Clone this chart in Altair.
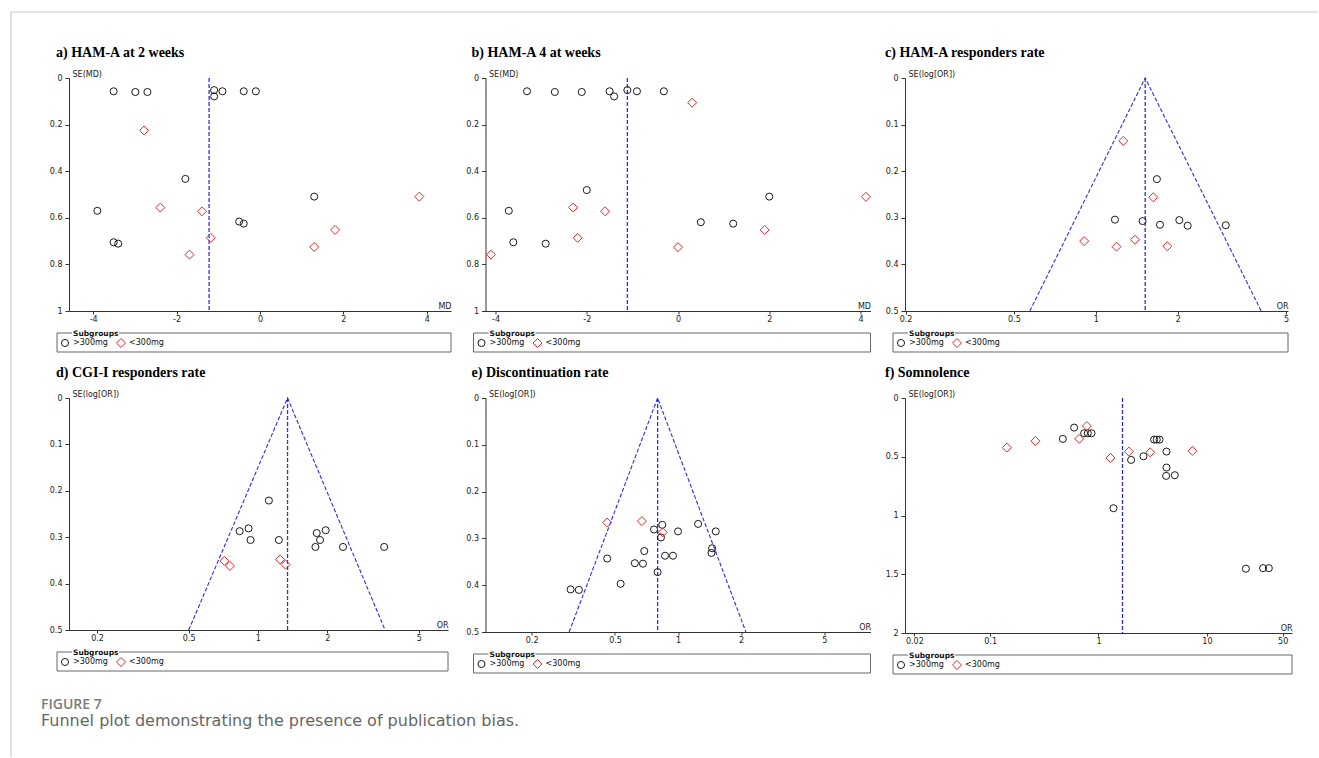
import altair as alt
import pandas as pd

# ---------------- data ----------------
# a) HAM-A at 2 weeks  (MD, SE(MD))
a_hi_md = [-3.51, -2.99, -2.70, -1.10, -1.10, -0.90, -0.39, -0.10, -1.79, 1.30, -3.90, -3.51, -3.40, -0.50, -0.39]
a_hi_se = [0.057, 0.060, 0.060, 0.052, 0.079, 0.057, 0.057, 0.057, 0.433, 0.509, 0.570, 0.705, 0.711, 0.616, 0.625]
a_lo_md = [-2.78, -2.39, -1.39, -1.18, -1.69, 1.30, 1.80, 3.82]
a_lo_se = [0.225, 0.556, 0.572, 0.686, 0.758, 0.725, 0.652, 0.509]
a_pooled = -1.22

# b) HAM-A 4 at weeks
b_hi_md = [-3.31, -2.70, -2.11, -1.50, -1.40, -1.11, -0.90, -0.31, -2.00, 2.00, -3.71, -3.61, -2.90, 0.50, 1.21]
b_hi_se = [0.057, 0.060, 0.060, 0.057, 0.079, 0.052, 0.057, 0.057, 0.481, 0.509, 0.570, 0.705, 0.711, 0.619, 0.625]
b_lo_md = [0.31, -2.30, -1.60, -2.20, -4.10, 0.00, 1.90, 4.12]
b_lo_se = [0.106, 0.556, 0.572, 0.686, 0.758, 0.726, 0.652, 0.510]
b_pooled = -1.11

# c) HAM-A responders rate  (OR, SE(log[OR]))
c_hi_or = [1.676, 1.175, 1.485, 1.720, 2.026, 2.174, 3.00]
c_hi_se = [0.217, 0.304, 0.307, 0.315, 0.305, 0.317, 0.316]
c_lo_or = [1.261, 1.625, 0.906, 1.191, 1.392, 1.830]
c_lo_se = [0.135, 0.256, 0.350, 0.362, 0.347, 0.361]
c_pooled = 1.518
c_funnel = [0.572, 4.05]

# d) CGI-I responders rate
d_hi_or = [1.116, 0.833, 0.911, 0.929, 1.233, 1.801, 1.971, 1.862, 1.778, 2.343, 3.538]
d_hi_se = [0.221, 0.287, 0.281, 0.306, 0.306, 0.291, 0.285, 0.306, 0.321, 0.321, 0.321]
d_lo_or = [0.715, 0.756, 1.249, 1.318]
d_lo_se = [0.351, 0.362, 0.348, 0.359]
d_pooled = 1.345
d_funnel = [0.5005, 3.57]

# e) Discontinuation rate
e_hi_or = [0.768, 0.841, 0.829, 1.0, 1.247, 1.514, 1.455, 1.444, 0.690, 0.867, 0.946, 0.459, 0.622, 0.680, 0.799, 0.532, 0.307, 0.336]
e_hi_se = [0.281, 0.271, 0.298, 0.285, 0.269, 0.285, 0.321, 0.331, 0.327, 0.337, 0.337, 0.343, 0.353, 0.354, 0.372, 0.397, 0.409, 0.410]
e_lo_or = [0.459, 0.672, 0.845]
e_lo_se = [0.266, 0.263, 0.287]
e_pooled = 0.799
e_funnel = [0.302, 2.11]

# f) Somnolence
f_hi_or = [0.596, 0.737, 0.797, 0.862, 0.469, 3.26, 3.45, 3.66, 4.24, 2.60, 2.00, 4.24, 4.21, 5.06, 1.375, 22.9, 33.0, 37.3]
f_hi_se = [0.252, 0.300, 0.300, 0.300, 0.348, 0.354, 0.354, 0.354, 0.456, 0.496, 0.527, 0.592, 0.663, 0.657, 0.938, 1.453, 1.448, 1.448]
f_lo_or = [0.781, 0.1427, 0.262, 0.663, 1.290, 1.905, 3.00, 7.37]
f_lo_se = [0.238, 0.422, 0.365, 0.348, 0.510, 0.456, 0.462, 0.450]
f_pooled = 1.665

md_ticks = [-4, -2, 0, 2, 4]
or_ticks = [0.2, 0.5, 1, 2, 5]
f_or_ticks = [0.02, 0.1, 1, 10, 50]
se_md_ticks = [0, 0.2, 0.4, 0.6, 0.8, 1]
se_or_ticks = [0, 0.1, 0.2, 0.3, 0.4, 0.5]
f_se_ticks = [0, 0.5, 1, 1.5, 2]

titles = ["a) HAM-A at 2 weeks", "b) HAM-A 4 at weeks", "c) HAM-A responders rate",
          "d) CGI-I responders rate", "e) Discontinuation rate", "f) Somnolence"]
groups = [">300mg", "<300mg"]

# ---------------- styling ----------------
BLUE = "#2b2bf2"
RED = "#e0282a"
BLACK = "#1a1a1a"
AXC = "#333333"
FONT = "DejaVu Sans"
one = pd.DataFrame({"k": [0]})


def x_axis(values, title, W, log=False):
    kw = dict(values=values, title=title, titleX=W, titleY=-3, titleAlign="right",
              titleBaseline="alphabetic", titleAngle=0, titleFontSize=8, titleFontWeight="normal",
              titleFont=FONT, titleColor="#222", labelFontSize=8, labelFont=FONT, labelColor="#222",
              labelFlush=False, labelOverlap=False, tickSize=3, labelPadding=1, grid=False,
              domainColor=AXC, tickColor=AXC, domainWidth=1, tickWidth=1)
    if log:
        kw["format"] = "~g"
    else:
        kw["labelExpr"] = "datum.value < 0 ? '-' + format(-datum.value, 'd') : format(datum.value, 'd')"
    return alt.Axis(**kw)


def y_axis(values, title):
    return alt.Axis(values=values, format="~g", title=title, titleX=3, titleY=-2, titleAlign="left",
                    titleBaseline="alphabetic", titleAngle=0, titleFontSize=8, titleFontWeight="normal",
                    titleFont=FONT, titleColor="#222", labelFontSize=8, labelFont=FONT, labelColor="#222",
                    labelFlush=False, labelOverlap=False, tickSize=4, labelPadding=3, grid=False,
                    domainColor=AXC, tickColor=AXC, domainWidth=1, tickWidth=1)


def panel(hi_x, hi_se, lo_x, lo_se, xs, xa, ys, ya, W, H, title, tdx, pooled, se_end, funnel=None):
    enc = lambda c: c.encode(x=alt.X("est:Q", scale=xs, axis=xa), y=alt.Y("se:Q", scale=ys, axis=ya))
    layers = []
    vdf = pd.DataFrame({"est": [pooled, pooled], "se": [0, se_end]})
    layers.append(enc(alt.Chart(vdf).mark_line(color=BLUE, strokeDash=[4, 2], strokeWidth=1.3)))
    if funnel is not None:
        fdf = pd.DataFrame({"est": [funnel[0], pooled, funnel[1]], "se": [se_end, 0, se_end], "o": [0, 1, 2]})
        layers.append(enc(alt.Chart(fdf).mark_line(color=BLUE, strokeDash=[4, 2], strokeWidth=1.1))
                      .encode(order="o:Q"))
    hdf = pd.DataFrame({"est": hi_x, "se": hi_se})
    ldf = pd.DataFrame({"est": lo_x, "se": lo_se})
    layers.append(enc(alt.Chart(hdf).mark_point(shape="circle", filled=False, color=BLACK,
                                                 size=50, strokeWidth=1, opacity=1)))
    layers.append(enc(alt.Chart(ldf).mark_point(shape="diamond", filled=False, color=RED,
                                                 size=80, strokeWidth=1, opacity=1)))
    # legend box
    layers.append(alt.Chart(one).mark_rect(fill="white", stroke="#666", strokeWidth=1).encode(
        x=alt.value(-12), x2=alt.value(W), y=alt.value(H + 22), y2=alt.value(H + 41)))
    layers.append(alt.Chart(one).mark_rect(fill="white").encode(
        x=alt.value(3), x2=alt.value(50), y=alt.value(H + 19), y2=alt.value(H + 26)))
    layers.append(alt.Chart(one).mark_text(align="left", baseline="alphabetic", font=FONT, fontSize=7.5,
                                           fontWeight="bold", color="#111").encode(
        x=alt.value(4), y=alt.value(H + 25), text=alt.value("Subgroups")))
    layers.append(alt.Chart(one).mark_point(shape="circle", filled=False, color=BLACK, size=50,
                                            strokeWidth=1, opacity=1).encode(
        x=alt.value(-4), y=alt.value(H + 32)))
    layers.append(alt.Chart(one).mark_text(align="left", baseline="middle", font=FONT, fontSize=8,
                                           color="#111").encode(
        x=alt.value(4), y=alt.value(H + 32), text=alt.value(groups[0])))
    layers.append(alt.Chart(one).mark_point(shape="diamond", filled=False, color=RED, size=80,
                                            strokeWidth=1, opacity=1).encode(
        x=alt.value(52), y=alt.value(H + 32)))
    layers.append(alt.Chart(one).mark_text(align="left", baseline="middle", font=FONT, fontSize=8,
                                           color="#111").encode(
        x=alt.value(60), y=alt.value(H + 32), text=alt.value(groups[1])))
    return alt.layer(*layers).properties(
        width=W, height=H,
        title=alt.TitleParams(text=title, anchor="start", frame="group", dx=tdx, offset=10,
                              font="Liberation Serif", fontSize=14, fontWeight="bold", color="#000"))


yr = lambda hi: alt.Scale(domain=[0, hi], reverse=True, nice=False, zero=False)

pa = panel(a_hi_md, a_hi_se, a_lo_md, a_lo_se,
           alt.Scale(domain=[-4.58, 4.58], nice=False, zero=False), x_axis(md_ticks, "MD", 382),
           yr(1), y_axis(se_md_ticks, "SE(MD)"), 382, 233, titles[0], -13, a_pooled, 1)
pb = panel(b_hi_md, b_hi_se, b_lo_md, b_lo_se,
           alt.Scale(domain=[-4.22, 4.22], nice=False, zero=False), x_axis(md_ticks, "MD", 385),
           yr(1), y_axis(se_md_ticks, "SE(MD)"), 385, 233, titles[1], -14, b_pooled, 1)
pc = panel(c_hi_or, c_hi_se, c_lo_or, c_lo_se,
           alt.Scale(type="log", domain=[0.199, 5.08], nice=False), x_axis(or_ticks, "OR", 383, True),
           yr(0.5), y_axis(se_or_ticks, "SE(log[OR])"), 383, 233, titles[2], -20, c_pooled, 0.5, c_funnel)
pd_ = panel(d_hi_or, d_hi_se, d_lo_or, d_lo_se,
            alt.Scale(type="log", domain=[0.151, 6.7], nice=False), x_axis(or_ticks, "OR", 379, True),
            yr(0.5), y_axis(se_or_ticks, "SE(log[OR])"), 379, 232, titles[3], -13, d_pooled, 0.5, d_funnel)
pe = panel(e_hi_or, e_hi_se, e_lo_or, e_lo_se,
           alt.Scale(type="log", domain=[0.1204, 8.30], nice=False), x_axis(or_ticks, "OR", 385, True),
           yr(0.5), y_axis(se_or_ticks, "SE(log[OR])"), 385, 234, titles[4], -14, e_pooled, 0.5, e_funnel)
pf = panel(f_hi_or, f_hi_se, f_lo_or, f_lo_se,
           alt.Scale(type="log", domain=[0.0164, 61], nice=False), x_axis(f_or_ticks, "OR", 387, True),
           yr(2), y_axis(f_se_ticks, "SE(log[OR])"), 387, 235, titles[5], -20, f_pooled, 2)

# caption + page frame
cap = alt.layer(
    alt.Chart(one).mark_rule(color="#cccccc", strokeWidth=1.2).encode(
        x=alt.value(-58), y=alt.value(-708), y2=alt.value(37)),
    alt.Chart(one).mark_rule(color="#cccccc", strokeWidth=1.2).encode(
        x=alt.value(-58), x2=alt.value(1249), y=alt.value(-708)),
    alt.Chart(one).mark_text(align="left", baseline="alphabetic", font="Open Sans", fontSize=14,
                             fontWeight=600, color="#7c7c7c").encode(
        x=alt.value(-28), y=alt.value(-11), text=alt.value("FIGURE 7")),
    alt.Chart(one).mark_text(align="left", baseline="alphabetic", font="DejaVu Sans", fontSize=16,
                             color="#666666").encode(
        x=alt.value(-28), y=alt.value(6),
        text=alt.value("Funnel plot demonstrating the presence of publication bias.")),
).properties(width=1, height=1)

chart = alt.concat(pa, pb, pc, pd_, pe, pf, cap, columns=3,
                   spacing={"row": 87, "column": 34.5}, bounds="flush").properties(
    padding={"left": 10, "top": 11, "right": 0, "bottom": 0}
).configure(font=FONT, background="white").configure_view(stroke=None)

chart.save("out.html", embed_options={"renderer": "svg", "actions": False})
